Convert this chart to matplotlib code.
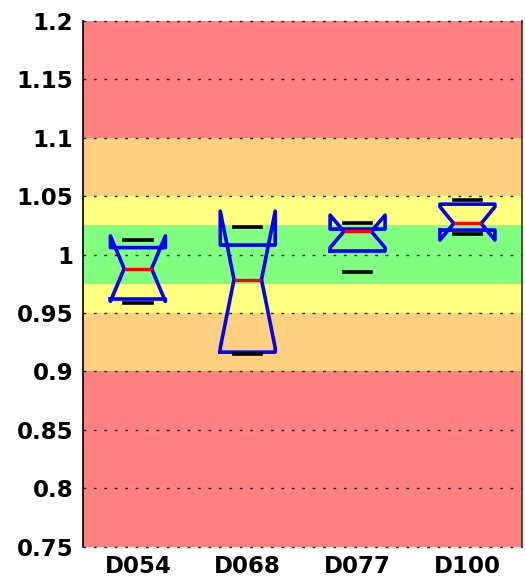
import matplotlib
matplotlib.use('Agg')
import matplotlib.pyplot as plt

# box statistics
labels = ['D054', 'D068', 'D077', 'D100']
med = [0.988, 0.9787, 1.0199, 1.0267]
q1 = [0.962, 0.9165, 1.0031, 1.021]
q3 = [1.006, 1.0082, 1.0219, 1.0432]
ci_lo = [0.960, 0.9202, 1.0060, 1.0125]
ci_hi = [1.016, 1.0372, 1.0338, 1.0409]
whis_lo = [0.9585, 0.9148, 0.9855, 1.0173]
whis_hi = [1.0125, 1.0233, 1.0273, 1.0466]

# background bands (lower, upper, colour)
band_lo = [0.75, 0.90, 0.95, 0.975, 1.025, 1.05, 1.10]
band_hi = [0.90, 0.95, 0.975, 1.025, 1.05, 1.10, 1.20]
band_col = ['#ff8080', '#ffd080', '#ffff80', '#80ff80', '#ffff80', '#ffd080', '#ff8080']

stats = []
for i in range(len(labels)):
    stats.append(dict(label=labels[i], med=med[i], q1=q1[i], q3=q3[i],
                      cilo=ci_lo[i], cihi=ci_hi[i],
                      whislo=whis_lo[i], whishi=whis_hi[i], fliers=[]))

fig = plt.figure(figsize=(5.25, 5.84), dpi=100)
ax = fig.add_axes([0.158, 0.064, 0.837, 0.900])

for lo, hi, c in zip(band_lo, band_hi, band_col):
    ax.axhspan(lo, hi, color=c, lw=0, zorder=0)

ax.bxp(stats, positions=[1, 2, 3, 4], widths=0.5, shownotches=True,
       showfliers=False, capwidths=0.25,
       boxprops=dict(color='#0000ff', linewidth=2.6),
       medianprops=dict(color='#ff0000', linewidth=2.4),
       whiskerprops=dict(linewidth=0),
       capprops=dict(color='black', linewidth=2.6))

ax.set_xlim(0.5, 4.5)
ax.set_ylim(0.75, 1.2)
ticks = [0.75, 0.8, 0.85, 0.9, 0.95, 1.0, 1.05, 1.1, 1.15, 1.2]
ax.set_yticks(ticks)
ax.set_yticklabels(['0.75', '0.8', '0.85', '0.9', '0.95', '1', '1.05', '1.1', '1.15', '1.2'])
ax.set_xticks([1, 2, 3, 4])
ax.set_xticklabels(labels)

for t in ticks:
    ax.axhline(t, color='#222222', lw=1.0, ls=(0, (2, 5.5)), zorder=1, clip_on=False)

for lab in ax.get_xticklabels() + ax.get_yticklabels():
    lab.set_fontfamily('DejaVu Sans')
    lab.set_fontweight('bold')
    lab.set_fontsize(16.5)

ax.tick_params(axis='y', length=0, pad=7)
ax.tick_params(axis='x', length=0, pad=6)
ax.spines['top'].set_visible(False)
ax.spines['bottom'].set_visible(False)
ax.spines['left'].set_linewidth(1.2)
ax.spines['right'].set_linewidth(1.2)
ax.spines['right'].set_color('#333333')

fig.savefig('out.png', dpi=100)
